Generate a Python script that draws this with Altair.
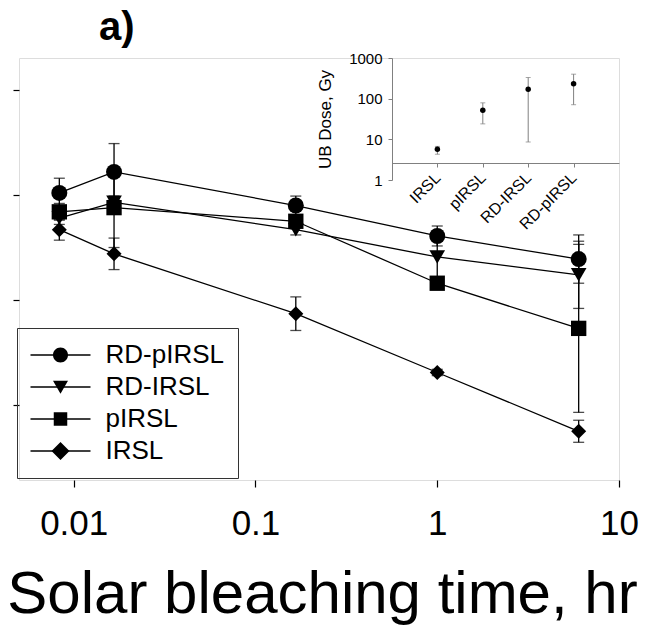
import altair as alt
import pandas as pd

# ---------------- data ----------------
series = ["RD-pIRSL", "RD-IRSL", "pIRSL", "IRSL"]
times = [1 / 120, 1 / 60, 1 / 6, 1, 6]  # hr

rd_pirsl = [3.02, 3.22, 2.90, 2.61, 2.39]
rd_pirsl_err = [0.14, 0.27, 0.09, 0.095, 0.23]
rd_irsl = [2.78, 2.93, 2.67, 2.41, 2.24]
rd_irsl_err = [0.06, 0.06, 0.05, 0.21, 0.32]
pirsl = [2.84, 2.88, 2.75, 2.16, 1.73]
pirsl_err = [0.08, 0.38, 0.05, 0.05, 0.80]
irsl = [2.67, 2.44, 1.87, 1.31, 0.75]
irsl_err = [0.10, 0.15, 0.16, 0.03, 0.105]

inset_cats = ["IRSL", "pIRSL", "RD-IRSL", "RD-pIRSL"]
ub_dose = [5.7, 52, 170, 232]
ub_lo = [4.3, 24, 8.6, 71]
ub_hi = [6.7, 79, 331, 400]

main_ticks = [1, 2, 3, 4]
x_ticks = [0.01, 0.1, 1, 10]
inset_ticks = [1, 10, 100, 1000]

# ---------------- tables ----------------
vals = {"RD-pIRSL": (rd_pirsl, rd_pirsl_err), "RD-IRSL": (rd_irsl, rd_irsl_err),
        "pIRSL": (pirsl, pirsl_err), "IRSL": (irsl, irsl_err)}
rows = []
for s in series:
    v, e = vals[s]
    for t, vi, ei in zip(times, v, e):
        rows.append({"series": s, "t": t, "v": vi, "lo": vi - ei, "hi": vi + ei})
df = pd.DataFrame(rows)

dfi = pd.DataFrame({"cat": inset_cats, "d": ub_dose, "lo": ub_lo, "hi": ub_hi})

FONT = "Liberation Sans"
shapes = ["circle", "triangle-down", "square", "diamond"]
sizes = [256, 225, 200, 324]
legend_paths = [
    "M-4,0L4,0M-1,0A1,1,0,1,0,1,0A1,1,0,1,0,-1,0Z",
    "M-4,0L4,0M-1,-0.85L1,-0.85L0,0.9Z",
    "M-4,0L4,0M-0.9,-0.9L0.9,-0.9L0.9,0.9L-0.9,0.9Z",
    "M-4,0L4,0M0,-1.2L1.2,0L0,1.2L-1.2,0Z",
]

# shared legend layout
LEG = dict(title=None, orient="none", legendX=-2, legendY=270,
           symbolSize=225, symbolOffset=16.5, labelOffset=32,
           labelFontSize=26, labelFont=FONT, padding=14, rowPadding=6,
           labelLimit=0, labelExpr="datum.label + '     '")

# ---------------- main plot ----------------
X = alt.X("t:Q",
          scale=alt.Scale(type="log", domain=[0.005, 10], nice=False),
          axis=alt.Axis(values=x_ticks, format="~g", domain=False, grid=False,
                        tickSize=7, tickColor="black", tickWidth=1.2,
                        labelFontSize=35, labelPadding=19, labelColor="black",
                        labelFlush=False, labelOverlap=False, labelFont=FONT,
                        title="Solar bleaching time, hr", titleFontSize=60,
                        titleFontWeight="normal", titlePadding=24, titleX=303,
                        titleColor="black", titleFont=FONT))
Y = alt.Y("v:Q",
          scale=alt.Scale(domain=[0.286, 4.305], nice=False, zero=False),
          axis=alt.Axis(values=main_ticks, labels=False, domain=False, grid=False,
                        tickSize=6, tickColor="black", tickWidth=1.2, title=None))

base = alt.Chart(df)

lines = base.mark_line(color="black", strokeWidth=1.3).encode(
    x=X, y=Y, detail="series:N", order="t:Q")

bars = base.mark_rule(color="black", strokeWidth=1.3).encode(
    x="t:Q", y="lo:Q", y2="hi:Q")
caps_lo = base.mark_tick(color="black", orient="horizontal", size=11, thickness=1.3).encode(
    x="t:Q", y="lo:Q")
caps_hi = base.mark_tick(color="black", orient="horizontal", size=11, thickness=1.3).encode(
    x="t:Q", y="hi:Q")

points = base.mark_point(filled=True, color="black", opacity=1).encode(
    x="t:Q", y="v:Q",
    shape=alt.Shape("series:N", scale=alt.Scale(domain=series, range=shapes), legend=None),
    size=alt.Size("series:N", scale=alt.Scale(domain=series, range=sizes), legend=None))

# legend 1: line segment through each entry (labels hidden)
legend_lines = base.mark_line(strokeWidth=1.3).encode(
    x="t:Q", y="v:Q",
    color=alt.Color("series:N",
                    scale=alt.Scale(domain=series, range=["black"] * 4),
                    legend=alt.Legend(symbolType="M-4,0L4,0", symbolStrokeWidth=1.3,
                                      labelOpacity=0, **LEG))
).transform_filter("false")

# legend 2: filled markers, labels and frame
legend_shapes = base.mark_point(filled=True, fill="black", stroke="black",
                                strokeWidth=1.3, opacity=1).encode(
    x="t:Q", y="v:Q",
    shape=alt.Shape("series:N", scale=alt.Scale(domain=series, range=legend_paths),
                    legend=alt.Legend(labelColor="black", strokeColor="#333333",
                                      symbolStrokeWidth=1.3, symbolStrokeColor="black",
                                      symbolFillColor="black", **LEG))
).transform_filter("false")

main = alt.layer(lines, bars, caps_lo, caps_hi, points, legend_lines,
                 legend_shapes).resolve_scale(shape="independent", size="independent")

# ---------------- inset ----------------
GRAY = "#808080"
IX = alt.X("cat:N", sort=inset_cats,
           scale=alt.Scale(type="point", domain=inset_cats, range=[373, 600], padding=1),
           axis=alt.Axis(orient="bottom", offset=-317, labelAngle=-45, labelAlign="right",
                         labelBaseline="middle", labelFontSize=16, labelPadding=8,
                         labelFont=FONT, labelColor="black", domainColor=GRAY,
                         tickColor=GRAY, tickSize=4, title=None, grid=False))
IY = alt.Y("lo:Q",
           scale=alt.Scale(type="log", domain=[1, 1000], range=[122, 0], nice=False),
           axis=alt.Axis(orient="left", offset=-373, values=inset_ticks, format="~g",
                         labelFontSize=15, labelFont=FONT, labelColor="black",
                         tickSize=4, labelPadding=6, domainColor=GRAY, tickColor=GRAY,
                         title="UB Dose, Gy", titleFontSize=17, titleFontWeight="normal",
                         titleFont=FONT, titleColor="black", titlePadding=14, grid=False))

ibase = alt.Chart(dfi)
ibars = ibase.mark_rule(color=GRAY, strokeWidth=1).encode(x=IX, y=IY, y2="hi:Q")
icap_lo = ibase.mark_tick(color=GRAY, orient="horizontal", size=5, thickness=1).encode(
    x="cat:N", y="lo:Q")
icap_hi = ibase.mark_tick(color=GRAY, orient="horizontal", size=5, thickness=1).encode(
    x="cat:N", y="hi:Q")
ipoints = ibase.mark_point(filled=True, color="black", size=30, opacity=1).encode(
    x="cat:N", y="d:Q")

inset = alt.layer(ibars, icap_lo, icap_hi, ipoints)

chart = alt.layer(main, inset).resolve_scale(x="independent", y="independent").properties(
    width=600, height=422,
    autosize=alt.AutoSizeParams(type="none"),
    padding={"left": 19, "top": 58, "right": 26, "bottom": 149},
    title=alt.Title("a)", anchor="start", frame="group", dx=80, dy=37, fontSize=40,
                    fontWeight="bold", font=FONT, color="black", offset=8,
                    baseline="alphabetic"),
).configure_view(stroke="#222222", strokeWidth=1.5).configure(background="white")

chart.save("out.html", embed_options={"renderer": "svg", "actions": False})
